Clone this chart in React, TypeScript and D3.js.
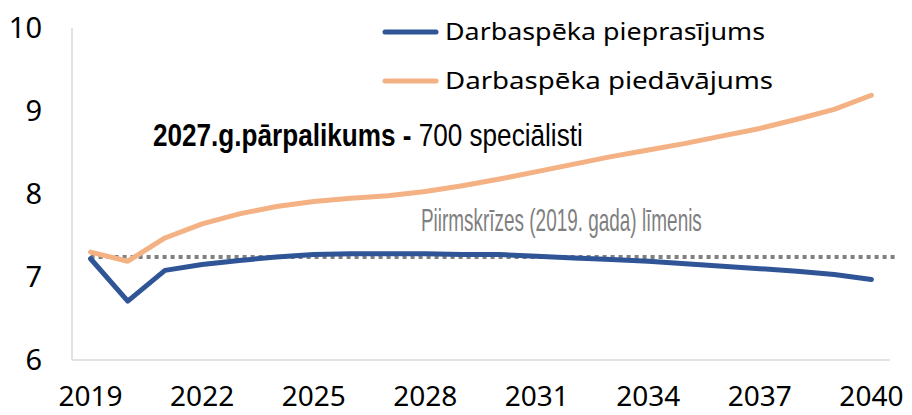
import React, { useLayoutEffect, useRef, useState } from "react";
import * as d3 from "d3";

const years = d3.range(2019, 2041).map(String);
const demand = [7.22, 6.71, 7.08, 7.15, 7.2, 7.24, 7.27, 7.28, 7.28, 7.28, 7.27, 7.27, 7.25, 7.23, 7.21, 7.19, 7.16, 7.13, 7.1, 7.07, 7.03, 6.97];
const supply = [7.3, 7.19, 7.47, 7.64, 7.76, 7.85, 7.91, 7.95, 7.98, 8.03, 8.1, 8.18, 8.27, 8.36, 8.45, 8.53, 8.61, 8.7, 8.79, 8.9, 9.02, 9.19];
const baseline = 7.24;
const yTicks = [6, 7, 8, 9, 10];
const xTickLabels = ["2019", "2022", "2025", "2028", "2031", "2034", "2037", "2040"];
const seriesNames = ["Darbaspēka pieprasījums", "Darbaspēka piedāvājums"];
const annotationBold = "2027.g.pārpalikums -";
const annotationRegular = "700 speciālisti";
const baselineLabel = "Piirmskrīzes (2019. gada) līmenis";

function FitText({ x, y, width, children, ...rest }: any) {
  const ref = useRef<SVGTextElement>(null);
  const [sx, setSx] = useState(1);
  useLayoutEffect(() => {
    if (ref.current) {
      const w = ref.current.getComputedTextLength();
      if (w > 0) setSx(width / w);
    }
  }, [width]);
  return (
    <text ref={ref} transform={`translate(${x},${y}) scale(${sx},1)`} {...rest}>
      {children}
    </text>
  );
}

export default function App() {
  const W = 912, H = 415;
  const left = 72, right = 890, top = 28, bottom = 360;
  const x = d3.scaleBand().domain(years).range([left, right]);
  const cx = (d: string) => (x(d) as number) + x.bandwidth() / 2;
  const y = d3.scaleLinear().domain([6, 10]).range([bottom, top]);
  const line = d3.line<number>().x((_, i) => cx(years[i])).y((v) => y(v));
  const font = "'Noto Sans', sans-serif";
  const narrow = "'Liberation Sans', sans-serif";
  return (
    <svg width={W} height={H} style={{ position: "absolute", left: 0, top: 0 }}>
      <rect width={W} height={H} fill="#fff" />
      <line x1={left} x2={left} y1={top} y2={bottom} stroke="#d9d9d9" strokeWidth={1.5} />
      <line x1={left} x2={right} y1={bottom} y2={bottom} stroke="#d9d9d9" strokeWidth={1.5} />
      {yTicks.map((t) => (
        <text key={t} x={42} y={y(t)} dy="0.36em" textAnchor="end" fontFamily={font} fontSize={29} fill="#000">{t}</text>
      ))}
      {xTickLabels.map((t) => (
        <text key={t} x={cx(t)} y={406} textAnchor="middle" fontFamily={font} fontSize={28} fill="#000">{t}</text>
      ))}
      <line x1={cx("2019")} x2={898} y1={y(baseline)} y2={y(baseline)} stroke="#808080" strokeWidth={4} strokeDasharray="4 4" />
      <path d={line(supply) as string} fill="none" stroke="#F4B183" strokeWidth={5} strokeLinejoin="round" strokeLinecap="round" />
      <path d={line(demand) as string} fill="none" stroke="#2F5597" strokeWidth={5} strokeLinejoin="round" strokeLinecap="round" />
      <FitText x={421} y={231} width={281} fontFamily={narrow} fontSize={31} fill="#7f7f7f">{baselineLabel}</FitText>
      <FitText x={153} y={146} width={430} fontFamily={narrow} fontSize={31} fill="#000">
        <tspan fontWeight="bold">{annotationBold}</tspan>
        <tspan> {annotationRegular}</tspan>
      </FitText>
      {seriesNames.map((n, i) => (
        <g key={n}>
          <line x1={385} x2={436} y1={32 + i * 49} y2={32 + i * 49} stroke={i === 0 ? "#2F5597" : "#F4B183"} strokeWidth={5} strokeLinecap="round" />
          <text x={445} y={32 + i * 49} dy="0.35em" fontFamily={font} fontSize={23} fill="#000" textLength={i === 0 ? 320 : 328} lengthAdjust="spacingAndGlyphs">{n}</text>
        </g>
      ))}
    </svg>
  );
}
